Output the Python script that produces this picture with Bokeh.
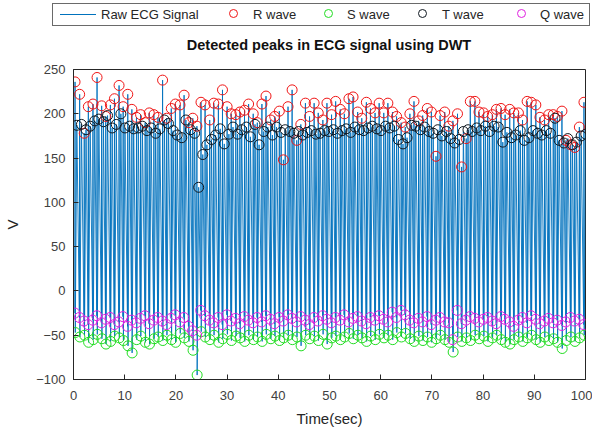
from bokeh.plotting import figure
from bokeh.layouts import column
from bokeh.models import Range1d, FixedTicker, Div
from bokeh.embed import file_html
from bokeh.resources import INLINE

# ---------------- data ----------------
beat_time = [
    0.3, 1.2, 2.1, 2.9, 3.8, 4.6, 5.5, 6.3, 7.2, 8.0,
    8.9, 9.7, 10.6, 11.4, 12.3, 13.1, 14.0, 14.8, 15.7, 16.5,
    17.4, 18.2, 19.1, 19.9, 20.8, 21.6, 22.5, 23.3, 24.1, 24.9,
    25.7, 26.6, 27.4, 28.3, 29.1, 30.0, 30.8, 31.7, 32.5, 33.4,
    34.2, 35.1, 35.9, 36.8, 37.6, 38.5, 39.3, 40.2, 41.0, 41.9,
    42.7, 43.6, 44.4, 45.3, 46.1, 47.0, 47.8, 48.7, 49.5, 50.4,
    51.2, 52.1, 52.9, 53.8, 54.6, 55.5, 56.3, 57.2, 58.0, 58.9,
    59.7, 60.6, 61.4, 62.3, 63.1, 64.0, 64.8, 65.7, 66.5, 67.4,
    68.2, 69.1, 69.9, 70.8, 71.6, 72.5, 73.3, 74.1, 75.0, 75.8,
    76.7, 77.5, 78.4, 79.2, 80.1, 80.9, 81.8, 82.6, 83.5, 84.3,
    85.2, 86.0, 86.9, 87.7, 88.6, 89.4, 90.3, 91.1, 92.0, 92.8,
    93.7, 94.5, 95.4, 96.2, 97.1, 97.9, 98.8, 99.7,
]
r_wave = [
    236, 222, 178, 208, 211, 241, 209, 197, 210, 217,
    232, 208, 222, 205, 196, 199, 190, 201, 199, 196,
    238, 195, 206, 211, 210, 221, 190, 195, 186, 213,
    210, 193, 212, 211, 227, 208, 200, 199, 202, 204,
    211, 200, 190, 211, 220, 193, 197, 203, 148, 208,
    227, 170, 188, 212, 197, 212, 201, 193, 212, 199,
    214, 205, 200, 217, 219, 202, 195, 213, 206, 201,
    212, 201, 212, 202, 197, 190, 185, 200, 214, 192,
    198, 206, 202, 152, 198, 202, 186, 192, 200, 140,
    172, 214, 214, 202, 201, 197, 199, 205, 206, 199,
    205, 201, 201, 193, 214, 213, 210, 196, 193, 199,
    199, 197, 203, 170, 165, 162, 185, 213,
]
t_wave = [
    187, 188, 182, 186, 192, 194, 191, 198, 184, 188,
    200, 184, 186, 183, 184, 186, 181, 184, 178, 183,
    193, 189, 181, 176, 173, 193, 182, 178, 117, 154,
    165, 171, 176, 183, 166, 177, 185, 177, 182, 185,
    174, 188, 165, 180, 185, 176, 185, 179, 182, 180,
    178, 180, 176, 179, 181, 177, 178, 181, 180, 182,
    178, 181, 183, 179, 185, 182, 181, 184, 186, 183,
    181, 186, 184, 186, 171, 166, 173, 187, 186, 182,
    185, 180, 178, 182, 175, 180, 172, 167, 171, 180,
    182, 180, 184, 181, 186, 180, 186, 185, 168, 179,
    173, 176, 181, 170, 173, 181, 178, 176, 181, 178,
    195, 170, 167, 172, 165, 168, 175, 177,
]
q_wave = [
    -25, -30, -34, -38, -33, -28, -36, -32, -30, -38,
    -35, -29, -40, -33, -36, -31, -28, -37, -33, -30,
    -34, -38, -31, -27, -35, -30, -40, -45, -50, -22,
    -28, -33, -36, -30, -38, -27, -34, -31, -37, -29,
    -33, -36, -30, -35, -28, -32, -37, -30, -34, -27,
    -31, -35, -29, -33, -38, -30, -34, -28, -32, -36,
    -30, -33, -27, -35, -31, -29, -34, -37, -30, -33,
    -28, -32, -35, -24, -30, -22, -27, -33, -36, -31,
    -35, -29, -38, -33, -30, -35, -36, -55, -22, -37,
    -33, -29, -31, -35, -32, -30, -34, -37, -29, -32,
    -35, -40, -33, -30, -36, -28, -32, -37, -34, -31,
    -36, -33, -39, -35, -30, -34, -32, -38,
]
s_wave = [
    -47, -52, -50, -58, -55, -49, -54, -60, -57, -51,
    -53, -56, -62, -70, -55, -51, -58, -60, -54, -52,
    -56, -50, -55, -58, -48, -53, -57, -67, -95, -46,
    -52, -55, -50, -58, -54, -49, -56, -51, -53, -57,
    -50, -55, -52, -57, -49, -54, -51, -56, -53, -50,
    -55, -52, -62, -50, -54, -51, -56, -49, -60, -53,
    -51, -55, -52, -48, -54, -50, -53, -57, -51, -55,
    -49, -53, -50, -55, -47, -52, -48, -54, -57, -51,
    -56, -52, -58, -54, -50, -55, -58, -69, -52, -57,
    -53, -56, -50, -54, -51, -57, -53, -50, -55, -58,
    -60, -55, -52, -57, -53, -50, -55, -58, -52, -56,
    -54, -58, -65, -56, -52, -57, -53, -50,
]
q_offset = -0.05   # Q sits just before R (s)
s_offset = 0.05    # S just after R (s)
t_offset = 0.35    # T after R (s)

x_ticks = [0, 10, 20, 30, 40, 50, 60, 70, 80, 90, 100]
y_ticks = [-100, -50, 0, 50, 100, 150, 200, 250]

title_text = "Detected peaks in ECG signal using DWT"
x_label = "Time(sec)"
y_label = "V"
series_names = ["Raw ECG Signal", "R wave", "S wave", "T wave", "Q wave"]

# ---------------- derived positions ----------------
q_time = [t + q_offset for t in beat_time]
s_time = [t + s_offset for t in beat_time]
t_time = [t + t_offset for t in beat_time]

raw_x, raw_y = [], []
for i in range(len(beat_time)):
    raw_x += [q_time[i], beat_time[i], s_time[i], t_time[i]]
    raw_y += [q_wave[i], r_wave[i], s_wave[i], t_wave[i]]

# ---------------- styles ----------------
FONT = "Liberation Sans"
AX = "#262626"
LINE_C = "#0072BD"
R_C, S_C, T_C, Q_C = "#F01515", "#22DD22", "#101820", "#E020E0"

# ---------------- main figure ----------------
p = figure(width=592, height=370, output_backend="svg", toolbar_location=None,
           x_range=Range1d(0, 100), y_range=Range1d(-100, 250),
           min_border_left=73, min_border_right=7, min_border_bottom=51,
           min_border_top=9)
p.title.visible = False
p.grid.visible = False
p.outline_line_color = AX
p.outline_line_width = 1

p.line(raw_x, raw_y, line_color=LINE_C, line_width=0.9)
p.scatter(beat_time, r_wave, marker="circle", size=10, fill_color=None,
          line_color=R_C, line_width=1)
p.scatter(s_time, s_wave, marker="circle", size=10, fill_color=None,
          line_color=S_C, line_width=1)
p.scatter(t_time, t_wave, marker="circle", size=10, fill_color=None,
          line_color=T_C, line_width=1)
p.scatter(q_time, q_wave, marker="circle", size=10, fill_color=None,
          line_color=Q_C, line_width=1)

for ax in (p.xaxis[0], p.yaxis[0]):
    ax.axis_line_color = AX
    ax.major_tick_line_color = AX
    ax.major_tick_in = 5
    ax.major_tick_out = 0
    ax.minor_tick_line_color = None
    ax.major_label_text_font = FONT
    ax.major_label_text_font_size = "13px"
    ax.major_label_text_color = "#404040"
    ax.axis_label_text_font = FONT
    ax.axis_label_text_font_size = "15px"
    ax.axis_label_text_font_style = "normal"
    ax.axis_label_text_color = AX

p.xaxis[0].ticker = FixedTicker(ticks=x_ticks)
p.yaxis[0].ticker = FixedTicker(ticks=y_ticks)
p.xaxis[0].axis_label = x_label
p.yaxis[0].axis_label = y_label
p.xaxis[0].major_label_standoff = 11
p.xaxis[0].axis_label_standoff = 7
p.yaxis[0].major_label_standoff = 8
p.yaxis[0].axis_label_standoff = 12

# ---------------- legend strip + title on top (HTML) ----------------
TXT = ("position:absolute;top:7px;font-family:'Liberation Sans';"
       "font-size:13px;line-height:15px;color:#262626;white-space:nowrap;")


def circ(cx, color):
    return (f'<div style="position:absolute;left:{cx - 5}px;top:9px;width:9px;'
            f'height:9px;border:1px solid {color};border-radius:50%;"></div>')


def label(x, text):
    return f'<div style="{TXT}left:{x}px;">{text}</div>'


header_html = (
    '<div style="position:relative;width:592px;height:60px;background:#fff;">'
    '<div style="position:absolute;left:52px;top:3px;width:538px;height:23px;'
    'border:1px solid #6a6a6a;box-sizing:border-box;background:#fff;"></div>'
    f'<div style="position:absolute;left:60px;top:14px;width:36px;height:0;'
    f'border-top:1px solid {LINE_C};"></div>'
    + label(101, series_names[0])
    + circ(234, R_C) + label(253, series_names[1])
    + circ(329, S_C) + label(347, series_names[2])
    + circ(423, T_C) + label(442, series_names[3])
    + circ(522, Q_C) + label(540, series_names[4])
    + '<div style="position:absolute;left:73px;top:36px;width:512px;'
      "text-align:center;font-family:'Liberation Sans';font-size:14.5px;"
      'font-weight:bold;line-height:18px;color:#111111;white-space:nowrap;">'
    + title_text + '</div>'
    + '</div>'
)
header = Div(text=header_html, width=592, height=60, margin=0)

page = column(header, p, spacing=0)
open("out.html", "w").write(file_html(page, INLINE))
